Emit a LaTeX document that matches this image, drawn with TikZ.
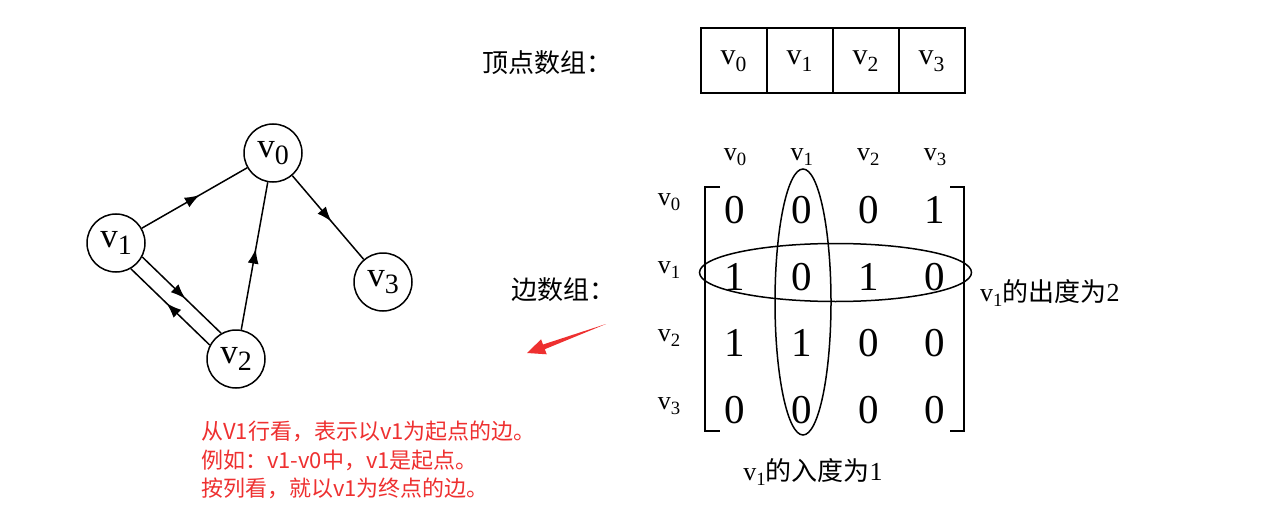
\documentclass[tikz,border=0pt]{standalone}
\usepackage{fontspec}
\setmainfont{Liberation Serif}
\newfontfamily\cjk{Noto Sans CJK SC}
\usepackage{graphicx}
\usetikzlibrary{decorations.markings,arrows.meta}
\definecolor{notered}{RGB}{238,48,48}

\newcommand{\vsub}[1]{v\raisebox{-0.18em}{\scalebox{0.8}{#1}}}
\newcommand{\vlow}[1]{v\raisebox{-0.22em}{\scalebox{0.72}{#1}}}

\begin{document}
\begin{tikzpicture}[x=1pt,y=-1pt,
  vertex/.style={draw,circle,line width=1.5pt,minimum size=58pt,inner sep=0pt,font=\fontsize{35}{35}\selectfont},
  midarrow/.style={line width=1.5pt,postaction={decorate},
    decoration={markings,mark=at position 0.55 with {\arrow{Latex[length=15pt,width=11pt]}}}},
  cell/.style={draw,line width=2pt,minimum width=66pt,minimum height=65pt,inner sep=0pt,font=\fontsize{30}{30}\selectfont},
  entry/.style={inner sep=0pt,font=\fontsize{41}{41}\selectfont},
  idx/.style={inner sep=0pt,font=\fontsize{26}{26}\selectfont},
  caption/.style={inner sep=0pt,font=\fontsize{26}{26}\selectfont},
  note/.style={anchor=west,inner sep=0pt,text=notered,font=\cjk\fontsize{22}{22}\selectfont}
]
\useasboundingbox (0,0) rectangle (1269,516);

% graph
\node[vertex] (v0) at (273,153) {\vsub{0}};
\node[vertex] (v1) at (116,243) {\vsub{1}};
\node[vertex] (v2) at (236,359) {\vsub{2}};
\node[vertex] (v3) at (383,282) {\vsub{3}};
\draw[midarrow] (v1) -- (v0);
\draw[midarrow] (v0) -- (v3);
\draw[midarrow] (v2) -- (v0);
\draw[midarrow] (v1.-28) -- (v2.120);
\draw[midarrow] (v2.152) -- (v1.-60);

% vertex array
\node[caption] (vtxlabel) at (547,63) {\cjk 顶点数组：};
\foreach \i in {0,...,3}
	\node[cell] (cell\i) at ({733.5+66*\i},61) {\vlow{\i}};

% edge array
\node[caption] (edgelabel) at (563,290) {\cjk 边数组：};
\foreach \c in {0,...,3}
	\node[idx] (col\c) at ({735+66.7*\c},157) {\vlow{\c}};
\foreach \r in {0,...,3}
	\node[idx] (row\r) at (669,{202+68*\r}) {\vlow{\r}};
\foreach \rowvals [count=\r from 0] in {{0,0,0,1},{1,0,1,0},{1,1,0,0},{0,0,0,0}}
	\foreach \val [count=\c from 0] in \rowvals
		\node[entry] (m\r\c) at ({735+66.7*\c},{210+66.7*\r}) {\val};
\draw[line width=2.2pt] (720,187) -- (705,187) -- (705,431) -- (720,431);
\draw[line width=2.2pt] (950,187) -- (964,187) -- (964,431) -- (950,431);
\draw[line width=1.5pt] (803,302) ellipse [x radius=28pt, y radius=133pt];
\draw[line width=1.5pt] (835.5,272.5) ellipse [x radius=136pt, y radius=29pt];
\node[caption,anchor=west] (outdeg) at (980,293) {\vlow{1}{\cjk 的出度为}2};
\node[caption] (indeg) at (813,472) {\vlow{1}{\cjk 的入度为}1};

% note
\fill[notered] (606,324) -- (544.8,349.2) -- (546.7,354.3) -- (527,353) -- (541.1,339.3) -- (543,344.5) -- cycle;
\node[note] (note1) at (201,431) {从V1行看，表示以v1为起点的边。};
\node[note] (note2) at (201,460) {例如：v1-v0中，v1是起点。};
\node[note] (note3) at (201,488) {按列看，就以v1为终点的边。};
\end{tikzpicture}
\end{document}
